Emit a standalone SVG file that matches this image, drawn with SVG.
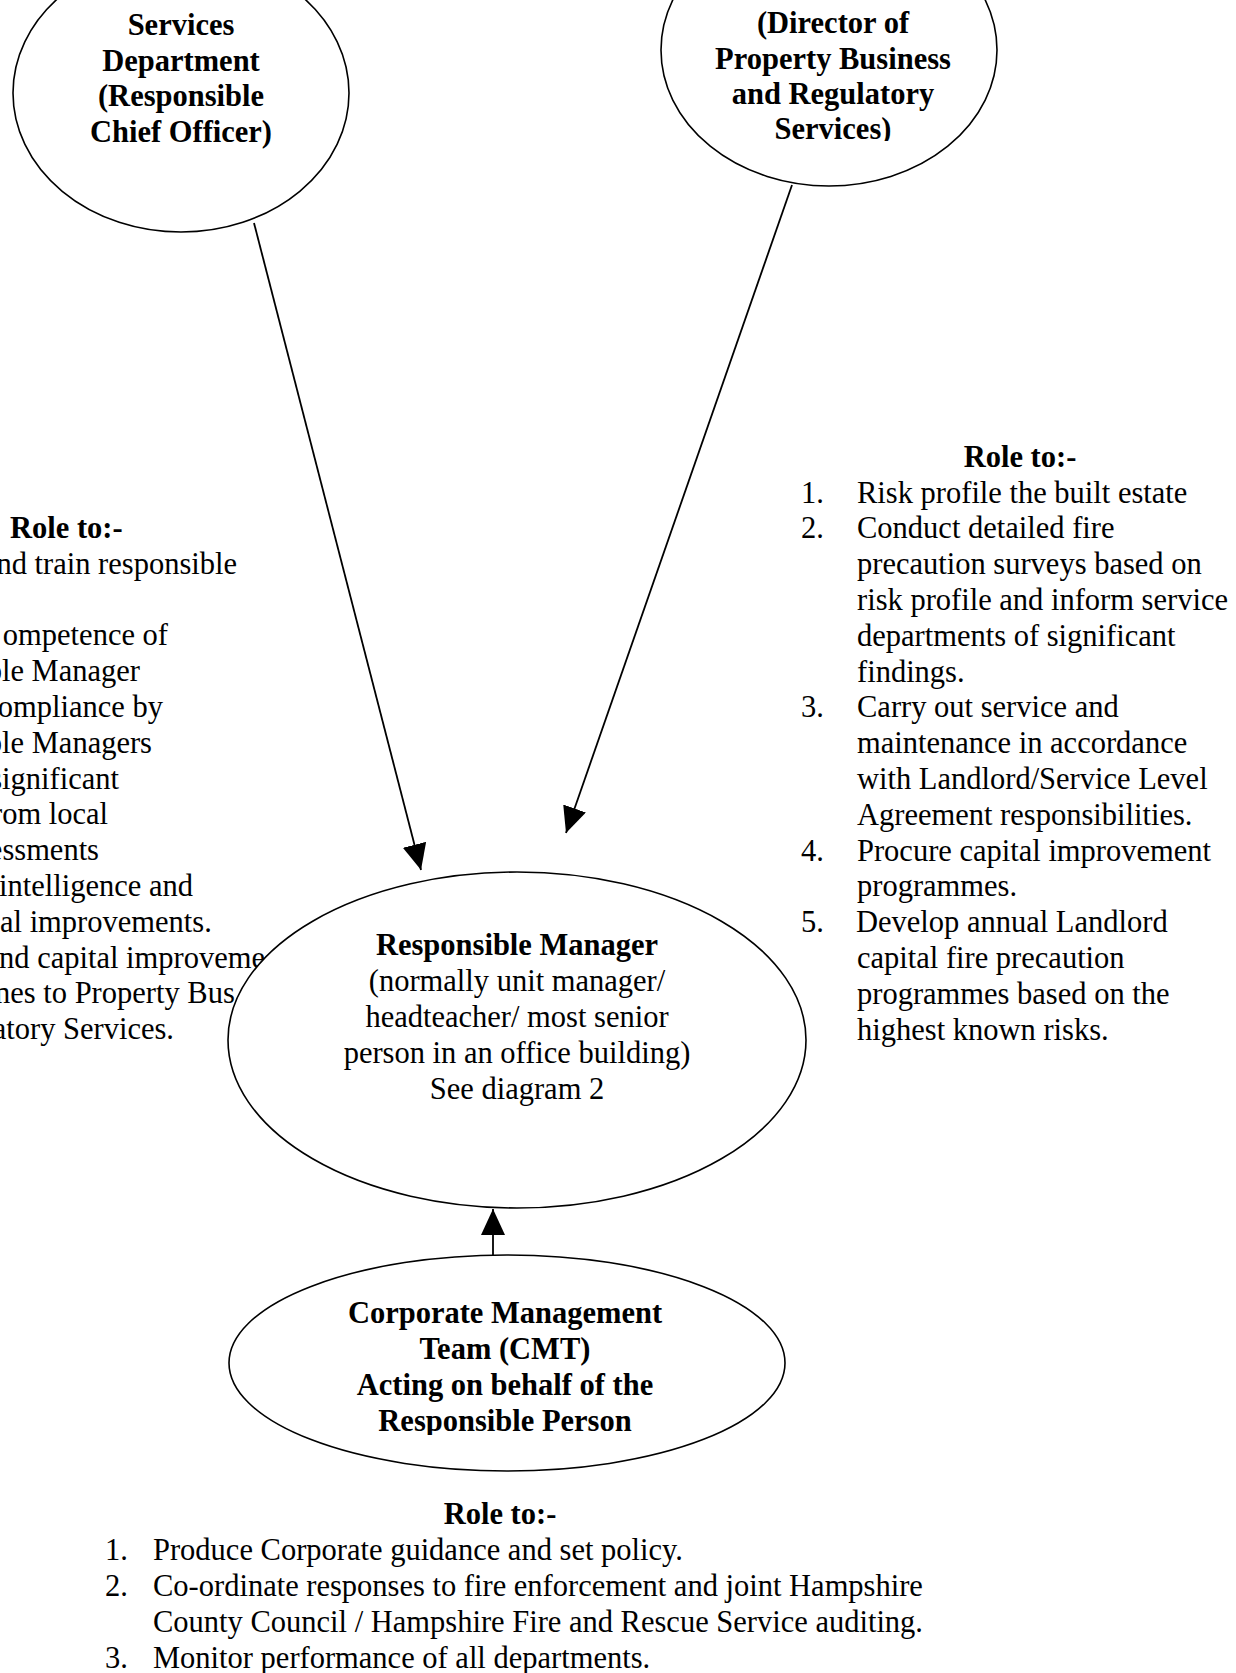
<svg xmlns="http://www.w3.org/2000/svg" width="1236" height="1673" viewBox="0 0 1236 1673">
<style>
text{font-family:"Liberation Serif","Times New Roman",serif;font-size:30.5px;fill:#000}
.b{font-weight:bold}
.c{text-anchor:middle}
.e{text-anchor:end}
.node{fill:#fff;stroke:#000;stroke-width:1.6}
.conn{stroke:#000;stroke-width:1.8;fill:none}
</style>
<defs>
<marker id="ah" markerUnits="userSpaceOnUse" markerWidth="28" markerHeight="26" refX="26" refY="12" orient="auto">
<path d="M0,0 L26,12 L0,24 Z" fill="#000"/>
</marker>
<clipPath id="clipR"><rect x="640" y="0" width="380" height="141"/></clipPath>
<clipPath id="clipB"><rect x="220" y="1250" width="580" height="185"/></clipPath>
</defs>

<g id="role-left">
<text x="10" y="538" class="b">Role to:-</text>
<text x="237" y="573.8" class="e">nd train responsible</text>
<text x="168" y="645.4" class="e">ompetence of</text>
<text x="140" y="681.2" class="e">ble Manager</text>
<text x="163" y="717" class="e">ompliance by</text>
<text x="152" y="752.8" class="e">ble Managers</text>
<text x="119" y="788.6" class="e">significant</text>
<text x="108" y="824.4" class="e">rom local</text>
<text x="99" y="860.2" class="e">essments</text>
<text x="193" y="896" class="e">intelligence and</text>
<text x="0" y="931.8">al improvements.</text>
<text x="-1" y="967.6">nd capital improveme</text>
<text x="-5" y="1003.4">nes to Property Bus</text>
<text x="174" y="1039.2" class="e">atory Services.</text>
</g>

<g id="role-right">
<text x="1020" y="466.7" class="b c">Role to:-</text>
<text x="801" y="502.5">1.</text><text x="857" y="502.5">Risk profile the built estate</text>
<text x="801" y="538.3">2.</text><text x="857" y="538.3">Conduct detailed fire</text>
<text x="857" y="574.1">precaution surveys based on</text>
<text x="857" y="609.9">risk profile and inform service</text>
<text x="857" y="645.7">departments of significant</text>
<text x="857" y="681.5">findings.</text>
<text x="801" y="717.3">3.</text><text x="857" y="717.3">Carry out service and</text>
<text x="857" y="753.1">maintenance in accordance</text>
<text x="857" y="788.9">with Landlord/Service Level</text>
<text x="857" y="824.7">Agreement responsibilities.</text>
<text x="801" y="860.5">4.</text><text x="857" y="860.5">Procure capital improvement</text>
<text x="857" y="896.3">programmes.</text>
<text x="801" y="932.1">5.</text><text x="856" y="932.1">Develop annual Landlord</text>
<text x="857" y="967.9">capital fire precaution</text>
<text x="857" y="1003.7">programmes based on the</text>
<text x="857" y="1039.5">highest known risks.</text>
</g>

<g id="role-bottom">
<text x="500" y="1524" class="b c">Role to:-</text>
<text x="105" y="1560">1.</text><text x="153" y="1560">Produce Corporate guidance and set policy.</text>
<text x="105" y="1596">2.</text><text x="153" y="1596">Co-ordinate responses to fire enforcement and joint Hampshire</text>
<text x="153" y="1632">County Council / Hampshire Fire and Rescue Service auditing.</text>
<text x="105" y="1668">3.</text><text x="153" y="1668">Monitor performance of all departments.</text>
</g>

<g id="node-services-dept">
<ellipse class="node" cx="181" cy="93" rx="168" ry="139"/>
<text x="181" y="35" class="b c">Services</text>
<text x="181" y="71" class="b c">Department</text>
<text x="181" y="106" class="b c">(Responsible</text>
<text x="181" y="142" class="b c">Chief Officer)</text>
</g>

<g id="node-property">
<ellipse class="node" cx="829" cy="50" rx="168" ry="136"/>
<g clip-path="url(#clipR)">
<text x="833" y="33" class="b c">(Director of</text>
<text x="833" y="68.5" class="b c">Property Business</text>
<text x="833" y="104" class="b c">and Regulatory</text>
<text x="833" y="139" class="b c">Services)</text>
</g>
</g>

<g id="node-responsible-manager">
<ellipse class="node" cx="517" cy="1040" rx="289" ry="168"/>
<text x="517" y="955" class="b c">Responsible Manager</text>
<text x="517" y="991" class="c">(normally unit manager/</text>
<text x="517" y="1027" class="c">headteacher/ most senior</text>
<text x="517" y="1063" class="c">person in an office building)</text>
<text x="517" y="1099" class="c">See diagram 2</text>
</g>

<g id="node-cmt">
<ellipse class="node" cx="507" cy="1363" rx="278" ry="108"/>
<g clip-path="url(#clipB)">
<text x="505" y="1323" class="b c">Corporate Management</text>
<text x="505" y="1359" class="b c">Team (CMT)</text>
<text x="505" y="1395" class="b c">Acting on behalf of the</text>
<text x="505" y="1431" class="b c">Responsible Person</text>
</g>
</g>

<g id="connectors">
<line class="conn" x1="254" y1="223" x2="421" y2="870" marker-end="url(#ah)"/>
<line class="conn" x1="792" y1="185" x2="566" y2="833" marker-end="url(#ah)"/>
<line class="conn" x1="493" y1="1255" x2="493" y2="1209" marker-end="url(#ah)"/>
</g>
</svg>
